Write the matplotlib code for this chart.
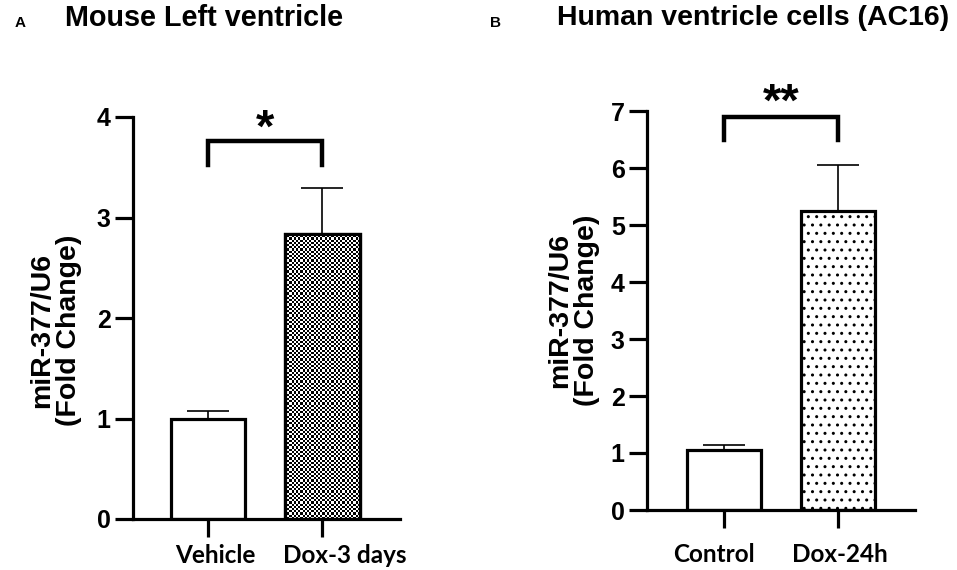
import numpy as np
import matplotlib
matplotlib.use("Agg")
import matplotlib.pyplot as plt
import matplotlib.transforms as mtransforms

# ---- datos ----
grupos_raton = ["Vehicle", "Dox-3 days"]
media_raton = [1.00, 2.84]
error_raton = [0.07, 0.45]

grupos_humano = ["Control", "Dox-24h"]
media_humano = [1.05, 5.24]
error_humano = [0.09, 0.82]

etiqueta_y = "miR-377/U6\n(Fold Change)"

plt.rcParams["font.family"] = ["Liberation Sans", "DejaVu Sans"]
plt.rcParams["hatch.linewidth"] = 1.0

fig = plt.figure(figsize=(9.57, 5.70), dpi=100)
W, H = 957, 570


def ejes_px(x0, x1, ytop, ybot):
    return fig.add_axes([x0 / W, 1 - ybot / H, (x1 - x0) / W, (ybot - ytop) / H])


def estilo(ax, ymax, grupos, pad_x, desplaz):
    for s in ["top", "right"]:
        ax.spines[s].set_visible(False)
    for s in ["left", "bottom"]:
        ax.spines[s].set_linewidth(2.3)
    ax.set_ylim(0, ymax)
    ax.set_yticks(range(ymax + 1))
    ax.tick_params(axis="both", length=13, width=2.3, direction="out")
    ax.tick_params(axis="y", labelsize=18, pad=3)
    for t in ax.get_yticklabels():
        t.set_fontweight("bold")
    ax.set_xticks([0, 1])
    ax.set_xticklabels(grupos, fontsize=17.5, fontweight="bold", family="Lato")
    ax.tick_params(axis="x", pad=pad_x)
    # pequeños corrimientos horizontales de las etiquetas, como en el original
    for t, d in zip(ax.get_xticklabels(), desplaz):
        t.set_transform(t.get_transform() +
                        mtransforms.ScaledTranslation(d / 100, 0, fig.dpi_scale_trans))


def corchete(ax, y_alto, y_bajo, y_texto, texto):
    ax.plot([0, 0, 1, 1], [y_bajo, y_alto, y_alto, y_bajo], color="black",
            lw=3.2, clip_on=False, solid_joinstyle="miter")
    ax.text(0.5, y_texto, texto, ha="center", va="center", fontsize=34,
            fontweight="bold", clip_on=False)


def barras(ax, medias, errores, textura):
    x = np.arange(len(medias))
    b = ax.bar(x, medias, width=0.65, color="white", edgecolor="black",
               linewidth=2.3, zorder=2)
    ax.errorbar(x, medias, yerr=[np.zeros(len(errores)), errores], fmt="none",
                ecolor="black", elinewidth=1.2, capsize=15, capthick=1.2, zorder=1)
    barra = b[1]
    if textura == "cuadros":
        bx, by = barra.get_x(), barra.get_y()
        bw, bh = barra.get_width(), barra.get_height()
        cuadros = np.indices((130, 34)).sum(axis=0) % 2
        img = ax.imshow(cuadros, cmap="gray", extent=[bx, bx + bw, by, by + bh],
                        interpolation="nearest", aspect="auto", zorder=2.5)
        img.set_clip_path(barra)
        ax.bar(x[1], medias[1], width=0.65, color="none", edgecolor="black",
               linewidth=2.3, zorder=3)
    else:
        barra.set_hatch("..")
    return b


# ---- panel A ----
axA = ejes_px(133, 400, 117, 519)
barras(axA, media_raton, error_raton, "cuadros")
axA.set_xlim(-0.655, 1.677)
estilo(axA, 4, grupos_raton, 5, [7, 22])
axA.set_ylabel(etiqueta_y, fontsize=20.5, fontweight="bold", linespacing=1.05)
axA.yaxis.set_label_coords(-0.19, 0.47)
corchete(axA, 3.76, 3.52, 3.87, "*")

# ---- panel B ----
axB = ejes_px(647, 915, 111, 510)
barras(axB, media_humano, error_humano, "puntos")
axB.set_xlim(-0.675, 1.675)
estilo(axB, 7, grupos_humano, 11, [-10, 2])
axB.set_ylabel(etiqueta_y, fontsize=20.5, fontweight="bold", linespacing=1.05)
axB.yaxis.set_label_coords(-0.175, 0.5)
corchete(axB, 6.9, 6.5, 7.12, "**")

# ---- títulos ----
fig.text(15 / W, 1 - 23 / H, "A", fontsize=11, fontweight="bold", va="center")
fig.text(65 / W, 1 - 18 / H, "Mouse Left ventricle", fontsize=20.7, fontweight="bold", va="center")
fig.text(490 / W, 1 - 23 / H, "B", fontsize=11, fontweight="bold", va="center")
fig.text(557 / W, 1 - 18 / H, "Human ventricle cells (AC16)", fontsize=20.5, fontweight="bold", va="center")

fig.savefig("out.png", dpi=100)
